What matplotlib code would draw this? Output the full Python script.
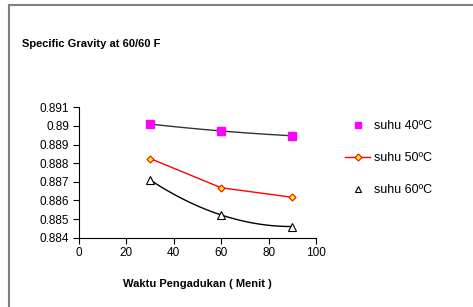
import numpy as np
import matplotlib
matplotlib.use("Agg")
import matplotlib.pyplot as plt
from matplotlib.lines import Line2D

plt.rcParams['font.family'] = ['Liberation Sans', 'DejaVu Sans']

waktu = [30, 60, 90]
suhu40 = [0.8901, 0.88973, 0.88947]
suhu50 = [0.88825, 0.88668, 0.88617]
suhu60 = [0.8871, 0.88522, 0.8846]
labels = ['suhu 40ºC', 'suhu 50ºC', 'suhu 60ºC']
xticks = [0, 20, 40, 60, 80, 100]
yticks = [0.884, 0.885, 0.886, 0.887, 0.888, 0.889, 0.89, 0.891]
yticklabels = ['0.884', '0.885', '0.886', '0.887', '0.888', '0.889', '0.89', '0.891']

W, H = 473, 307
fig = plt.figure(figsize=(W / 100, H / 100), dpi=100)
ax = fig.add_axes([79 / W, 1 - 237.7 / H, (316 - 79) / W, (237.7 - 107.3) / H])

def smooth(x, y):
    c = np.polyfit(x, y, 2)
    xs = np.linspace(min(x), max(x), 60)
    return xs, np.polyval(c, xs)

xs, ys = smooth(waktu, suhu40)
ax.plot(xs, ys, color='#333333', lw=1.0, zorder=2)
ax.plot(waktu, suhu40, ls='none', marker='s', ms=5.5, mfc='#ff00ff', mec='#ff00ff', zorder=3)

ax.plot(waktu, suhu50, color='#ff0000', lw=1.0, marker='D', ms=3.5, mfc='#ffff00',
        mec='#ff0000', mew=0.8, zorder=3)

xs, ys = smooth(waktu, suhu60)
ax.plot(xs, ys, color='black', lw=1.0, zorder=2)
ax.plot(waktu, suhu60, ls='none', marker='^', ms=5.5, mfc='white', mec='black', mew=0.8, zorder=3)

ax.set_xlim(0, 100)
ax.set_ylim(0.884, 0.891)
ax.set_xticks(xticks)
ax.set_xticklabels([str(t) for t in xticks])
ax.set_yticks(yticks)
ax.set_yticklabels(yticklabels)
ax.tick_params(labelsize=8.5, length=4, width=0.8, color='black', pad=3)
for s in ['top', 'right']:
    ax.spines[s].set_visible(False)
for s in ['left', 'bottom']:
    ax.spines[s].set_color('black')
    ax.spines[s].set_linewidth(0.8)

ax.set_xlabel('Waktu Pengadukan ( Menit )', fontsize=8, fontweight='bold', labelpad=14)

fig.text(22 / W, 1 - 44 / H, 'Specific Gravity at 60/60 F', fontsize=8, fontweight='bold',
         va='center', ha='left')

handles = [
    Line2D([], [], ls='none', marker='s', ms=5, mfc='#ff00ff', mec='#ff00ff'),
    Line2D([], [], color='#ff0000', lw=1.0, marker='D', ms=3.5, mfc='#ffff00', mec='#ff0000', mew=0.8),
    Line2D([], [], ls='none', marker='^', ms=4.5, mfc='white', mec='black', mew=0.8),
]
fig.legend(handles, labels, loc='upper left', bbox_to_anchor=(345 / W, 1 - 120 / H),
           frameon=False, fontsize=9, handlelength=2.0, handletextpad=0.3,
           labelspacing=1.6, borderaxespad=0, borderpad=0)

# figure border (top and left)
fig.add_artist(Line2D([8.5 / W, 8.5 / W], [0, 1 - 4.5 / H], transform=fig.transFigure,
                      color='#808080', lw=1.5))
fig.add_artist(Line2D([8.5 / W, 1.01], [1 - 4.5 / H, 1 - 4.5 / H], transform=fig.transFigure,
                      color='#808080', lw=1.5))

fig.savefig('out.png', dpi=100)
